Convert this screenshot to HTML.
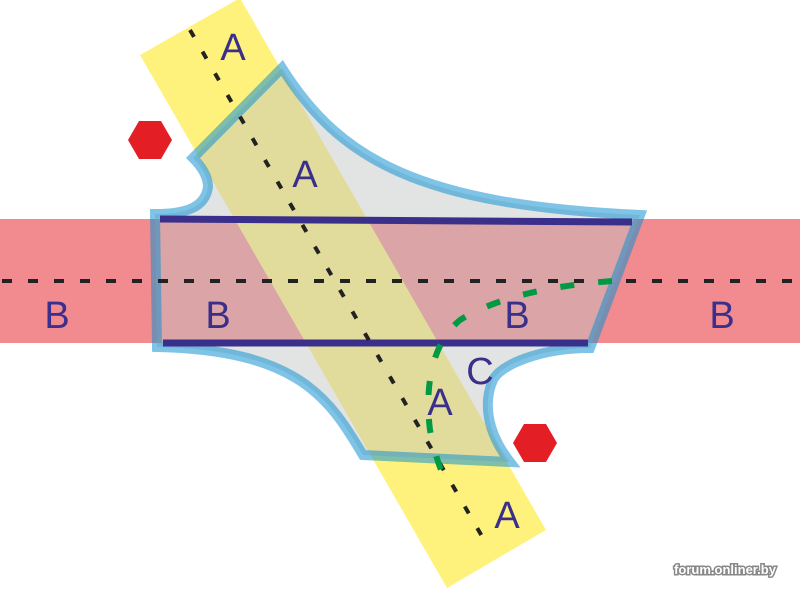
<!DOCTYPE html>
<html><head><meta charset="utf-8"><style>
html,body{margin:0;padding:0;background:#fff}
svg{display:block}
text{font-family:"Liberation Sans",sans-serif}
</style></head><body>
<svg width="800" height="590" viewBox="0 0 800 590">
<rect x="0" y="219" width="800" height="124" fill="#f28b8f"/>
<polygon points="140,55,240,-2,546,530,447,588" fill="#fff27c"/>
<path d="M282,68 C340,160 420,205 640,215 L590,348 C540,348 500,365 493,380 C484,400 485,430 510,462 L363,455 C330,400 300,350 157,347 L155,214 C185,214 205,208 208,187 C208,175 200,165 193,158 Z"
 fill="rgb(192,194,194)" fill-opacity="0.46" stroke="rgb(13,143,207)" stroke-opacity="0.53" stroke-width="10" stroke-linejoin="miter"/>
<line x1="160" y1="219" x2="632" y2="222" stroke="#3a2f8a" stroke-width="7"/>
<line x1="163" y1="343" x2="588" y2="343" stroke="#3a2f8a" stroke-width="7"/>
<line x1="2" y1="281" x2="800" y2="281" stroke="#222" stroke-width="4" stroke-dasharray="10,16"/>
<line x1="190" y1="30" x2="487" y2="545" stroke="#222" stroke-width="4" stroke-dasharray="8,17"/>
<path d="M612,281 C560,285 500,295 460,320 C430,345 425,390 430,430 C435,455 440,470 448,485" fill="none" stroke="#009944" stroke-width="6" stroke-dasharray="14,24"/>
<polygon points="128,140,139,121,161,121,172,140,161,159,139,159" fill="#e31e24"/>
<polygon points="513,443,524,424,546,424,557,443,546,462,524,462" fill="#e31e24"/>
<g fill="#3a2f8a" font-size="38" text-anchor="middle">
<text x="233" y="60">A</text>
<text x="305" y="187">A</text>
<text x="440" y="415">A</text>
<text x="507" y="528">A</text>
<text x="57" y="328">B</text>
<text x="218" y="328">B</text>
<text x="517" y="328">B</text>
<text x="722" y="328">B</text>
<text x="480" y="384">C</text>
</g>
<text x="725" y="574" font-size="13" font-weight="bold" fill="#fff" text-anchor="middle" stroke="#888" stroke-width="3" paint-order="stroke">forum.onliner.by</text>
</svg>
</body></html>
